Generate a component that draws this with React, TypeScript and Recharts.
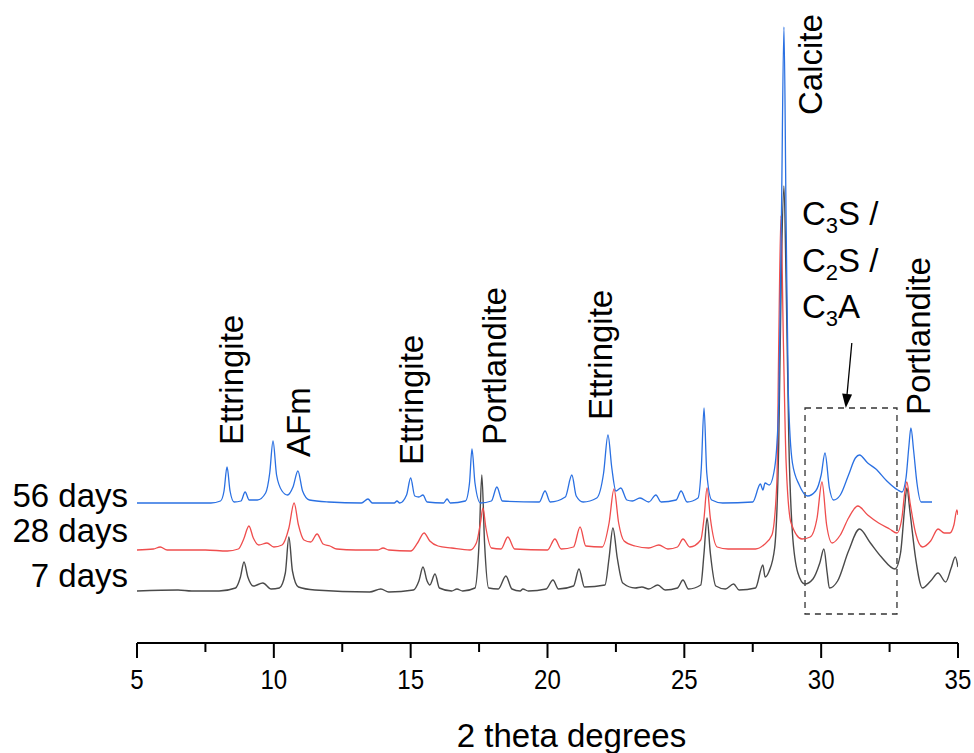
import React from 'react';
import {
  LineChart,
  Line,
  XAxis,
  YAxis,
  ReferenceDot,
  ReferenceArea,
  ReferenceLine,
} from 'recharts';

// [2 theta, counts (a.u., offset per curing age)]
const days56: [number, number][] = [
  [5.0, 140], [7.7, 140], [8.05, 142], [8.18, 152], [8.29, 176], [8.4, 152], [8.55, 141],
  [8.8, 142], [8.95, 151], [9.1, 143], [9.4, 143], [9.7, 150], [9.85, 170], [9.97, 202],
  [10.1, 168], [10.3, 152], [10.5, 148], [10.7, 156], [10.88, 172], [11.05, 152], [11.3, 143],
  [12.0, 141], [13.2, 140], [13.44, 144], [13.6, 140], [14.4, 140], [14.5, 142], [14.6, 140],
  [14.85, 148], [15.0, 165], [15.15, 147], [15.3, 146], [15.45, 148], [15.6, 141], [16.2, 140],
  [16.33, 144], [16.45, 140], [17.0, 142], [17.15, 160], [17.24, 194], [17.35, 160], [17.55, 140],
  [17.95, 142], [18.15, 156], [18.35, 142], [19.7, 141], [19.91, 152], [20.1, 141], [20.65, 146],
  [20.89, 168], [21.05, 147], [21.3, 141], [21.8, 145], [22.05, 170], [22.21, 208], [22.35, 175],
  [22.5, 152], [22.68, 155], [22.9, 143], [23.1, 142], [23.38, 145], [23.7, 141], [23.96, 148],
  [24.15, 141], [24.7, 143], [24.88, 152], [25.1, 141], [25.5, 145], [25.62, 175], [25.72, 235],
  [25.82, 170], [26.0, 143], [26.4, 140], [27.5, 141], [27.78, 159], [27.87, 153], [27.95, 160],
  [28.1, 158], [28.3, 175], [28.45, 240], [28.55, 430], [28.64, 616], [28.72, 420], [28.8, 250],
  [28.95, 180], [29.2, 158], [29.5, 147], [29.8, 152], [30.0, 168], [30.14, 190], [30.3, 155],
  [30.45, 143], [30.7, 148], [31.0, 168], [31.25, 185], [31.4, 188], [31.7, 180], [32.0, 174],
  [32.4, 162], [32.8, 153], [32.95, 151], [33.1, 165], [33.2, 195], [33.28, 215], [33.38, 192],
  [33.5, 160], [33.65, 141], [34.05, 141],
];

const days28: [number, number][] = [
  [5.0, 93], [5.6, 94], [5.85, 96], [6.1, 93], [7.5, 93], [8.3, 92], [8.7, 94], [8.9, 104],
  [9.09, 117], [9.25, 105], [9.45, 98], [9.75, 100], [10.0, 96], [10.3, 98], [10.55, 115],
  [10.74, 140], [10.9, 118], [11.1, 103], [11.35, 101], [11.58, 109], [11.8, 99], [12.05, 97],
  [12.3, 94], [13.0, 93], [13.8, 93], [13.99, 95], [14.2, 93], [15.0, 92], [15.25, 100],
  [15.49, 110], [15.7, 102], [16.0, 97], [16.5, 95], [17.17, 93], [17.4, 100], [17.55, 120],
  [17.64, 135], [17.75, 115], [17.95, 95], [18.3, 94], [18.55, 106], [18.8, 94], [20.0, 93],
  [20.27, 104], [20.5, 94], [20.95, 96], [21.19, 116], [21.4, 97], [22.0, 96], [22.25, 120],
  [22.43, 154], [22.6, 120], [22.8, 102], [23.2, 97], [23.7, 95], [24.07, 98], [24.4, 94],
  [24.75, 96], [24.95, 104], [25.2, 96], [25.6, 103], [25.72, 125], [25.83, 155], [25.95, 125],
  [26.2, 96], [26.6, 94], [27.6, 94], [27.9, 98], [28.2, 108], [28.38, 160], [28.45, 300],
  [28.53, 427], [28.62, 300], [28.72, 180], [28.9, 120], [29.3, 104], [29.6, 106], [29.85, 125],
  [30.03, 161], [30.2, 118], [30.4, 100], [30.7, 108], [31.0, 125], [31.34, 137], [31.7, 128],
  [32.1, 120], [32.5, 114], [32.77, 110], [32.95, 125], [33.05, 150], [33.13, 161], [33.25, 140],
  [33.45, 110], [33.7, 96], [34.0, 102], [34.27, 114], [34.5, 110], [34.7, 110], [34.85, 118],
  [34.96, 133], [35.0, 128],
];

const days7: [number, number][] = [
  [5.0, 52], [6.5, 53], [7.0, 52], [8.0, 52], [8.6, 55], [8.78, 66], [8.91, 81], [9.05, 66],
  [9.25, 57], [9.6, 60], [9.9, 54], [10.2, 55], [10.42, 70], [10.55, 106], [10.68, 72], [10.9, 56],
  [11.5, 53], [13.5, 51], [13.91, 54], [14.2, 51], [15.1, 53], [15.3, 62], [15.45, 76], [15.6, 62],
  [15.7, 58], [15.89, 69], [16.05, 55], [16.5, 52], [16.69, 54], [16.9, 52], [17.35, 55],
  [17.5, 100], [17.6, 168], [17.7, 100], [17.85, 55], [18.2, 54], [18.48, 67], [18.7, 54],
  [19.0, 52], [19.1, 54], [19.3, 52], [19.95, 54], [20.2, 63], [20.4, 54], [20.95, 57],
  [21.15, 74], [21.35, 56], [22.1, 58], [22.25, 85], [22.39, 115], [22.55, 85], [22.75, 60],
  [23.2, 55], [23.45, 56], [23.7, 54], [24.03, 58], [24.3, 53], [24.75, 55], [24.95, 63],
  [25.15, 54], [25.6, 58], [25.72, 90], [25.83, 125], [25.95, 90], [26.15, 57], [26.5, 54],
  [26.8, 59], [27.0, 53], [27.6, 55], [27.87, 78], [27.95, 66], [28.1, 72], [28.3, 95],
  [28.45, 200], [28.55, 380], [28.64, 457], [28.72, 360], [28.82, 200], [28.95, 110], [29.15, 70],
  [29.4, 59], [29.7, 64], [29.95, 80], [30.1, 94], [30.22, 70], [30.3, 55], [30.6, 62],
  [31.0, 92], [31.4, 114], [31.8, 100], [32.2, 86], [32.7, 74], [32.9, 90], [33.05, 135],
  [33.13, 155], [33.25, 130], [33.45, 85], [33.7, 55], [34.0, 62], [34.27, 70], [34.55, 61],
  [34.75, 75], [34.9, 86], [35.0, 76],
];

const xTicks = [5, 7.5, 10, 12.5, 15, 17.5, 20, 22.5, 25, 27.5, 30, 32.5, 35];

// phase labels: text, 2 theta, counts at the start of the (rotated) text
const phaseLabels: [string, number, number][] = [
  ['Ettringite', 8.87, 198],
  ['AFm', 11.32, 186],
  ['Ettringite', 15.45, 178],
  ['Portlandite', 18.48, 198],
  ['Ettringite', 22.35, 223],
  ['Calcite', 30.03, 528],
  ['Portlandite', 33.97, 228],
];

// series name, anchor counts at 2 theta = 5
const seriesNames: [string, number, number][] = [
  ['56 days', 140, 4],
  ['28 days', 93, -8],
  ['7 days', 52, -4],
];

const toPoints = (arr: [number, number][]) => arr.map(([x, y]) => ({ x, y }));

const FONT = "'Liberation Sans', Arial, sans-serif";

const AxisTick = (props: any) => {
  const { x, y, payload } = props;
  const major = payload.value % 5 === 0;
  return (
    <g>
      <line x1={x} x2={x} y1={y} y2={y + (major ? 15 : 9)} stroke="#000" strokeWidth={2} />
      {major && (
        <text
          transform={`translate(${x}, ${y + 46}) scale(0.86, 1)`}
          textAnchor="middle"
          fontSize={28}
          fontFamily={FONT}
          fill="#000"
        >
          {payload.value}
        </text>
      )}
    </g>
  );
};

const XTitle = (props: any) => {
  const { viewBox } = props;
  return (
    <text
      x={viewBox.x + viewBox.width / 2 + 24}
      y={viewBox.y + 104}
      textAnchor="middle"
      fontSize={33}
      fontFamily={FONT}
      fill="#000"
    >
      2 theta degrees
    </text>
  );
};

const RotatedText = (text: string) => (props: any) => (
  <text
    x={props.cx}
    y={props.cy}
    transform={`rotate(-90, ${props.cx}, ${props.cy})`}
    fontSize={33}
    fontFamily={FONT}
    fill="#000"
  >
    {text}
  </text>
);

const SeriesName = (text: string, dy: number) => (props: any) => (
  <text x={props.cx - 9} y={props.cy + dy} textAnchor="end" fontSize={33} fontFamily={FONT} fill="#000">
    {text}
  </text>
);

const PhaseGroup = (props: any) => {
  const { cx, cy } = props;
  const sub = { fontSize: 22 };
  return (
    <text x={cx} y={cy} fontSize={33} fontFamily={FONT} fill="#000">
      <tspan x={cx} y={cy}>C</tspan>
      <tspan {...sub} dy={8}>3</tspan>
      <tspan dy={-8}>S /</tspan>
      <tspan x={cx} y={cy + 47}>C</tspan>
      <tspan {...sub} dy={8}>2</tspan>
      <tspan dy={-8}>S /</tspan>
      <tspan x={cx} y={cy + 93}>C</tspan>
      <tspan {...sub} dy={8}>3</tspan>
      <tspan dy={-8}>A</tspan>
    </text>
  );
};

const Arrow = (props: any) => {
  const { x1, y1, x2, y2 } = props;
  const dx = x2 - x1;
  const dy = y2 - y1;
  const len = Math.sqrt(dx * dx + dy * dy);
  const ux = dx / len;
  const uy = dy / len;
  const head = 14;
  const bx = x2 - ux * head;
  const by = y2 - uy * head;
  return (
    <g>
      <line x1={x1} y1={y1} x2={bx} y2={by} stroke="#000" strokeWidth={1.3} />
      <polygon
        points={`${x2},${y2} ${bx - uy * 5},${by + ux * 5} ${bx + uy * 5},${by - ux * 5}`}
        fill="#000"
      />
    </g>
  );
};

export default function App() {
  return (
    <div style={{ position: 'absolute', left: 0, top: 0, background: '#fff' }}>
      <LineChart width={974} height={753} margin={{ top: 0, right: 16, left: 137, bottom: 0 }}>
        <XAxis
          dataKey="x"
          type="number"
          domain={[5, 35]}
          ticks={xTicks}
          interval={0}
          allowDataOverflow
          height={110}
          tickSize={0}
          tickMargin={0}
          tickLine={false}
          axisLine={{ stroke: '#000', strokeWidth: 2 }}
          tick={<AxisTick />}
          label={{ value: '2 theta degrees', content: <XTitle /> }}
        />
        <YAxis type="number" domain={[0, 643]} hide allowDataOverflow />
        <ReferenceArea
          x1={29.41}
          x2={32.77}
          y1={29}
          y2={235}
          fill="none"
          fillOpacity={0}
          stroke="#333"
          strokeWidth={1.3}
          strokeDasharray="6 5"
          ifOverflow="visible"
        />
        <Line data={toPoints(days7)} dataKey="y" stroke="#4a4a4a" strokeWidth={1.4} dot={false} type="monotone" isAnimationActive={false} />
        <Line data={toPoints(days28)} dataKey="y" stroke="#ef4d4d" strokeWidth={1.3} dot={false} type="monotone" isAnimationActive={false} />
        <Line data={toPoints(days56)} dataKey="y" stroke="#2a70e2" strokeWidth={1.3} dot={false} type="monotone" isAnimationActive={false} />
        <ReferenceLine
          segment={[{ x: 31.12, y: 300 }, { x: 30.9, y: 235 }]}
          shape={<Arrow />}
          ifOverflow="visible"
        />
        {phaseLabels.map(([t, x, y], i) => (
          <ReferenceDot key={`p${i}`} x={x} y={y} r={0} ifOverflow="visible" shape={RotatedText(t)} />
        ))}
        <ReferenceDot x={29.3} y={418} r={0} ifOverflow="visible" shape={PhaseGroup} />
        {seriesNames.map(([t, y, dy], i) => (
          <ReferenceDot key={`s${i}`} x={5} y={y} r={0} ifOverflow="visible" shape={SeriesName(t, dy)} />
        ))}
      </LineChart>
    </div>
  );
}
